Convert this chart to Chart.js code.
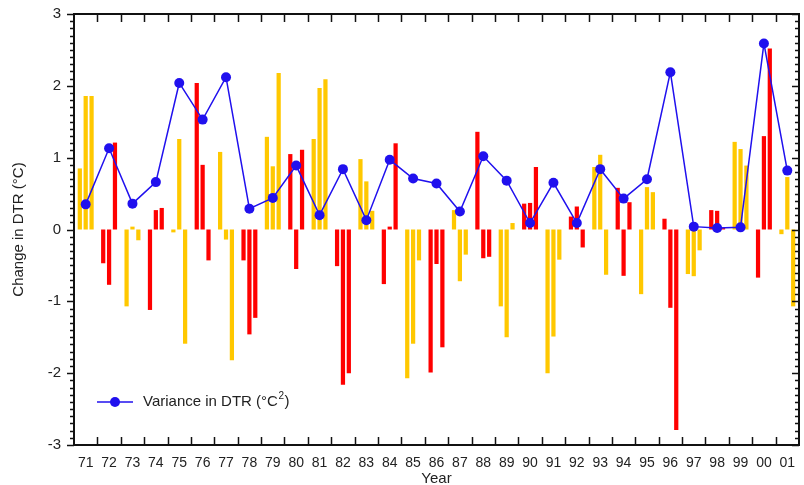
<!DOCTYPE html>
<html>
<head>
<meta charset="utf-8">
<script src="https://cdn.jsdelivr.net/npm/chart.js@4.4.0/dist/chart.umd.min.js"></script>
<style>
  html, body { margin: 0; padding: 0; background: #fff; }
  #wrap { width: 804px; height: 485px; position: relative; }
</style>
</head>
<body>
<div id="wrap"><canvas id="chart1"></canvas></div>
<script>
// years 1971-2001, three bars per year plus the yearly variance
const years = ['71','72','73','74','75','76','77','78','79','80','81','82','83','84','85','86',
               '87','88','89','90','91','92','93','94','95','96','97','98','99','00','01'];
const bar1 = [0.85, -0.47, -1.07, -1.12, -0.04, 2.04, 1.08, -0.43, 1.29, 1.05, 1.26, -0.51, 0.98, -0.76, -2.07, -1.99,
              0.27, 1.36, -1.07, 0.36, -2.00, 0.18, 0.87, 0.58, -0.90, 0.15, -0.62, 0.27, 1.22, -0.67, -0.065];
const bar2 = [1.86, -0.77, 0.04, 0.27, 1.26, 0.90, -0.14, -1.46, 0.88, -0.55, 1.97, -2.16, 0.67, 0.04, -1.59, -0.48,
              -0.72, -0.40, -1.50, 0.37, -1.49, 0.32, 1.04, -0.645, 0.59, -1.09, -0.65, 0.26, 1.12, 1.30, 0.73];
const bar3 = [1.86, 1.21, -0.15, 0.30, -1.59, -0.43, -1.82, -1.23, 2.18, 1.11, 2.09, -2.00, 0.26, 1.20, -0.43, -1.64,
              -0.35, -0.38, 0.09, 0.87, -0.42, -0.25, -0.63, 0.38, 0.52, -2.79, -0.29, 0.02, 0.89, 2.52, -1.07];
const variance = [0.35, 1.13, 0.36, 0.66, 2.04, 1.53, 2.12, 0.29, 0.44, 0.89, 0.20, 0.84, 0.13, 0.97, 0.71, 0.64,
                  0.25, 1.02, 0.68, 0.09, 0.65, 0.09, 0.84, 0.43, 0.70, 2.19, 0.04, 0.02, 0.03, 2.59, 0.82];
const yTicks = [-3, -2, -1, 0, 1, 2, 3];

const YELLOW = '#ffc800';
const RED = '#ff0000';
const BLUE = '#2010ee';
const INK = '#222';
const narrow = "'Liberation Sans Narrow', 'Liberation Sans', Arial, sans-serif";
const sans = "'Liberation Sans', Arial, sans-serif";

// odd years yellow, even years red
const barColors = years.map((y, i) => i % 2 === 0 ? YELLOW : RED);

function barSet(values) {
    return {
        type: 'bar',
        data: values,
        backgroundColor: barColors,
        borderWidth: 0,
        barPercentage: 0.72,
        categoryPercentage: 0.754,
        order: 2
    };
}

// frame with ticks, drawn from the scales
const frame = {
    id: 'frame',
    afterDraw(chart) {
        const ctx = chart.ctx;
        const a = chart.chartArea;
        const x = chart.scales.x, y = chart.scales.y;
        ctx.save();
        ctx.strokeStyle = '#111';
        ctx.lineWidth = 1.5;
        ctx.beginPath();
        // left / right minor + major ticks
        for (let k = -30; k <= 30; k++) {
            const py = Math.round(y.getPixelForValue(k / 10)) + 0.5;
            const major = k % 10 === 0;
            ctx.moveTo(a.left, py); ctx.lineTo(a.left - (major ? 7 : 4), py);
            ctx.moveTo(a.right, py); ctx.lineTo(a.right - (major ? 7 : 4), py);
        }
        // top / bottom ticks between years
        for (let i = 1; i < years.length; i++) {
            const px = Math.round((x.getPixelForValue(i - 1) + x.getPixelForValue(i)) / 2) + 0.5;
            ctx.moveTo(px, a.top); ctx.lineTo(px, a.top + 8);
            ctx.moveTo(px, a.bottom); ctx.lineTo(px, a.bottom - 8);
        }
        ctx.stroke();
        ctx.lineWidth = 2;
        ctx.strokeRect(a.left, a.top, a.right - a.left, a.bottom - a.top);
        ctx.restore();
    }
};

// legend inside the plot, bottom left
const insideLegend = {
    id: 'insideLegend',
    afterDraw(chart) {
        const ctx = chart.ctx;
        const a = chart.chartArea;
        const ly = a.bottom - 43;
        const x0 = a.left + 23;
        ctx.save();
        ctx.strokeStyle = BLUE;
        ctx.lineWidth = 1.5;
        ctx.beginPath();
        ctx.moveTo(x0, ly); ctx.lineTo(x0 + 36, ly);
        ctx.stroke();
        ctx.fillStyle = BLUE;
        ctx.beginPath();
        ctx.arc(x0 + 18, ly, 5, 0, Math.PI * 2);
        ctx.fill();
        ctx.fillStyle = INK;
        ctx.textBaseline = 'middle';
        ctx.font = '15px ' + sans;
        let tx = x0 + 46;
        const main = 'Variance in DTR (°C';
        ctx.fillText(main, tx, ly);
        tx += ctx.measureText(main).width;
        ctx.font = '10px ' + sans;
        ctx.fillText('2', tx + 0.5, ly - 6);
        tx += ctx.measureText('2').width + 1;
        ctx.font = '15px ' + sans;
        ctx.fillText(')', tx, ly);
        ctx.restore();
    }
};

new Chart('chart1', {
    data: {
        labels: years,
        datasets: [
            {
                type: 'line',
                label: 'Variance in DTR (°C²)',
                data: variance,
                borderColor: BLUE,
                backgroundColor: BLUE,
                borderWidth: 1.5,
                pointRadius: 5,
                pointBackgroundColor: BLUE,
                pointBorderColor: BLUE,
                pointBorderWidth: 0,
                tension: 0,
                order: 1
            },
            barSet(bar1),
            barSet(bar2),
            barSet(bar3)
        ]
    },
    options: {
        responsive: true,
        maintainAspectRatio: false,
        animation: false,
        layout: { padding: { top: 14, right: 0, left: 0, bottom: 0 } },
        plugins: { legend: { display: false }, tooltip: { enabled: false } },
        scales: {
            x: {
                type: 'category',
                offset: true,
                grid: { display: false, drawTicks: false },
                border: { display: false },
                ticks: { color: INK, padding: 10, maxRotation: 0, autoSkip: false, font: { family: narrow, size: 14 } },
                title: { display: true, text: 'Year', color: INK, padding: { top: 0, bottom: -1 },
                         font: { family: sans, size: 15, lineHeight: 1 } },
                afterFit: s => { s.height = 40; s.paddingLeft = 0; s.paddingRight = 0; }
            },
            y: {
                min: -3, max: 3,
                afterBuildTicks: s => { s.ticks = yTicks.map(v => ({ value: v })); },
                grid: { display: false, drawTicks: false },
                border: { display: false },
                ticks: { color: INK, padding: 13, font: { family: narrow, size: 15 } },
                title: { display: true, text: 'Change in DTR (°C)', color: INK, padding: { top: 11, bottom: 0 },
                         font: { family: sans, size: 15, lineHeight: 1 } },
                afterFit: s => { s.width = 74; s.paddingTop = 0; s.paddingBottom = 0; }
            }
        }
    },
    plugins: [frame, insideLegend]
});
</script>
</body>
</html>
